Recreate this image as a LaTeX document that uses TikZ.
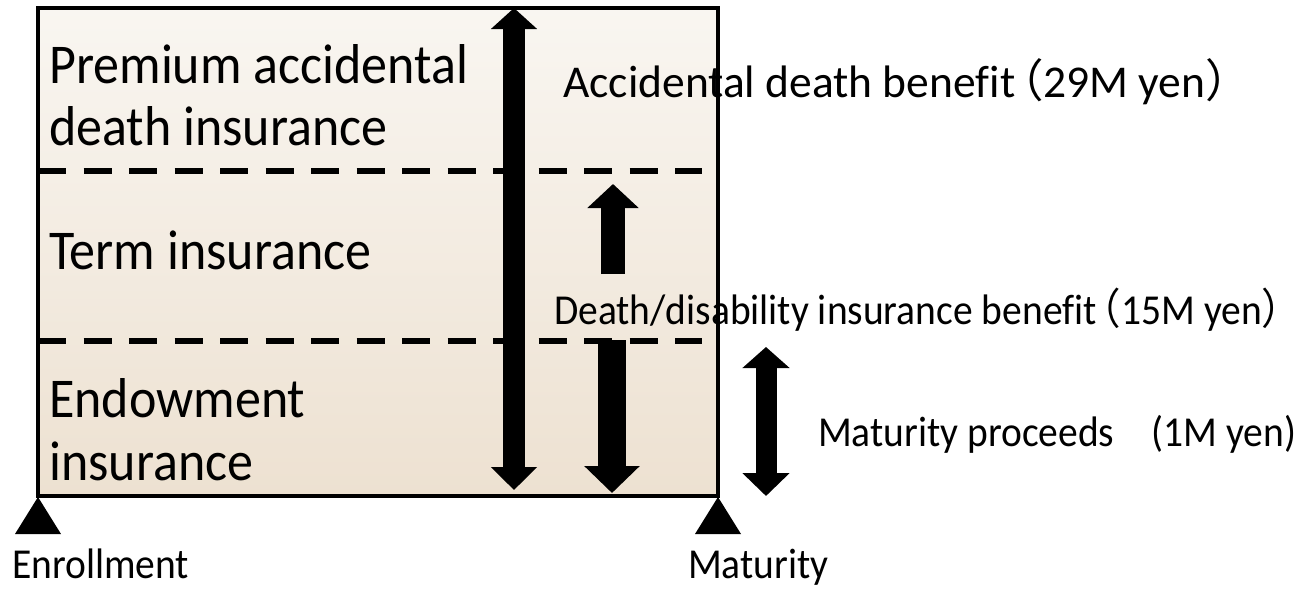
\documentclass[tikz,border=0pt]{standalone}
\usepackage{fontspec}
\setmainfont{Carlito}[Ligatures=NoCommon]
% half-width alternates keep the full-width brackets tight
\newfontfamily\cjkfont{Noto Sans CJK JP}[RawFeature=+halt]
\usetikzlibrary{arrows.meta}
\newcommand{\fwl}{\hspace{0.12em}{\cjkfont （}}
\newcommand{\fwr}{{\cjkfont ）}}
% slightly tall lettering
\newcommand{\tall}[1]{\scalebox{1}[1.08]{#1}}
\tikzset{
  frame/.style={line width=3.5pt, draw=black, top color=plan top, bottom color=plan bottom},
  divider/.style={line width=6.5pt, dash pattern=on 28pt off 17.5pt},
  bigtext/.style={anchor=base west, inner sep=0pt, font=\fontsize{52}{62}\selectfont},
  midtext/.style={anchor=base west, inner sep=0pt, font=\fontsize{45.5}{54}\selectfont},
  smalltext/.style={anchor=base west, inner sep=0pt, font=\fontsize{39.5}{47}\selectfont},
  support/.style={fill=black},
}
\definecolor{plan top}{RGB}{249,246,241}
\definecolor{plan bottom}{RGB}{237,225,209}
\begin{document}
\begin{tikzpicture}[x=1pt,y=-1pt]
\useasboundingbox (0,0) rectangle (1299,589);
% plan frame and its corners
\coordinate (tl) at (38,8);
\coordinate (br) at (718,496);
\path[frame] (tl) rectangle (br);
% layer boundaries
\coordinate (d1a) at (38,171);
\coordinate (d1b) at (702,171);
\coordinate (d2a) at (38,341);
\coordinate (d2b) at (702,341);
\draw[divider] (d1a) -- (d1b);
\draw[divider] (d2a) -- (d2b);
\draw[line width=3.5pt] (tl) rectangle (br);
% layer names
\node[bigtext] (prem1) at (49,83) {\tall{Premium accidental}};
\node[bigtext] (prem2) at (49,145) {\tall{death insurance}};
\node[bigtext] (term) at (49,269) {\tall{Term insurance}};
\node[bigtext] (endo1) at (49,417) {\tall{Endowment}};
\node[bigtext] (endo2) at (49,480) {\tall{insurance}};
% benefit arrows
\coordinate (a1t) at (514,8);
\coordinate (a1b) at (514,490);
\draw[line width=22pt, {Triangle[width=45pt,length=21pt]}-{Triangle[width=45pt,length=23pt]}] (a1t) -- (a1b);
\coordinate (a2t) at (613,184);
\coordinate (a2b) at (613,274);
\draw[line width=24pt, -{Triangle[width=50pt,length=24pt]}] (a2b) -- (a2t);
\coordinate (a3t) at (612,340);
\coordinate (a3b) at (612,493);
\draw[line width=28pt, -{Triangle[width=54pt,length=27pt]}] (a3t) -- (a3b);
\coordinate (a4t) at (766,347);
\coordinate (a4b) at (766,496);
\draw[line width=21pt, {Triangle[width=46pt,length=21pt]}-{Triangle[width=46pt,length=23pt]}] (a4t) -- (a4b);
% benefit labels
\node[midtext] (acc) at (563,97) {Accidental death benefit\fwl 29M yen\fwr};
\node[smalltext, font=\fontsize{39.5}{48}\selectfont] (death) at (554,324) {\tall{Death/disability insurance benefit\fwl 15M yen\fwr}};
\node[smalltext] (matp) at (818,446) {\tall{Maturity proceeds\hspace{0.95em}(1M yen)}};
% time line supports
\fill[support] (38,497) -- (61,534) -- (15,534) -- cycle;
\fill[support] (718,497) -- (741,534) -- (695,534) -- cycle;
\node[smalltext] (enroll) at (12,578) {\tall{Enrollment}};
\node[smalltext] (matur) at (688,578) {\tall{Maturity}};
\end{tikzpicture}
\end{document}
